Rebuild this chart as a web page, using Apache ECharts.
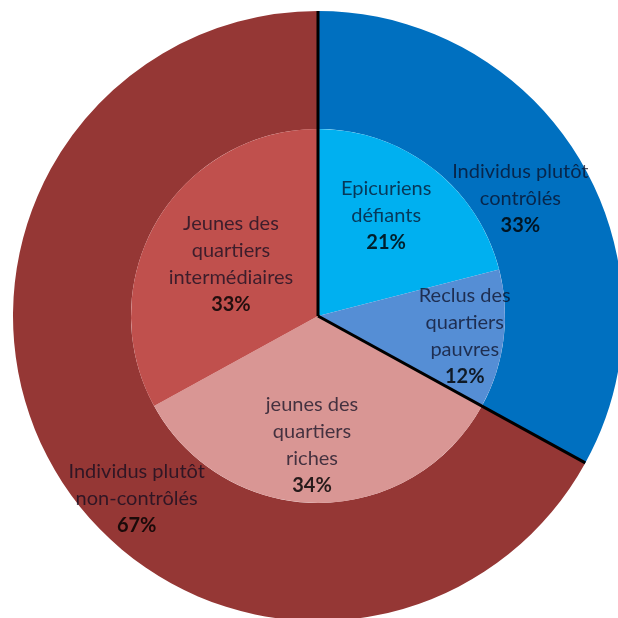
<!DOCTYPE html>
<html>
<head>
<meta charset="utf-8">
<script src="https://cdn.jsdelivr.net/npm/echarts@6/dist/echarts.min.js"></script>
<style>
html, body { margin: 0; padding: 0; background: #fff; }
#chart { width: 618px; height: 618px; }
</style>
</head>
<body>
<div id="chart"></div>
<script>
// outer ring
var outerNames = ['Individus plutôt\ncontrôlés', 'Individus plutôt\nnon-contrôlés'];
var outerValues = [33, 67];
var outerColors = ['#0070C0', '#953735'];

// inner pie
var innerNames = ['Epicuriens\ndéfiants', 'Reclus des\nquartiers\npauvres', 'jeunes des\nquartiers\nriches', 'Jeunes des\nquartiers\nintermédiaires'];
var innerValues = [21, 12, 34, 33];
var innerColors = ['#00B0F0', '#558ED5', '#D99694', '#C0504D'];

var cx = 318, cy = 316, rIn = 187, rOut = 305;

var myChart = echarts.init(document.getElementById('chart'));

var labelStyle = {
    show: true,
    position: 'inside',
    formatter: function (p) {
        return '{n|' + p.name + '}\n{p|' + p.value + '%}';
    },
    rich: {
        n: { fontFamily: 'Lato', fontSize: 20, lineHeight: 27, color: 'rgba(10,10,30,0.72)', align: 'center' },
        p: { fontFamily: 'Lato', fontSize: 20, lineHeight: 27, fontWeight: 'bold', color: 'rgba(0,0,0,0.82)', align: 'center' }
    }
};

var outerOffsets = [[-12, 9], [33, 56]];
var innerOffsets = [[9, -24], [51, 8], [-6, 33], [-4, -3]];

// black separators on the "contrôlés" slice
var total = outerValues.reduce(function (a, b) { return a + b; }, 0);
var cuts = [0, outerValues[0] / total];
var lines = cuts.map(function (f) {
    var a = f * 2 * Math.PI;
    return {
        type: 'line',
        z: 100,
        shape: { x1: cx, y1: cy, x2: cx + Math.sin(a) * rOut, y2: cy - Math.cos(a) * rOut },
        style: { stroke: '#000', lineWidth: 3 }
    };
});

option = {
    backgroundColor: '#fff',
    animation: false,
    graphic: lines,
    series: [
        {
            type: 'pie',
            center: [cx, cy],
            radius: [rIn, rOut],
            startAngle: 90,
            clockwise: true,
            silent: true,
            labelLine: { show: false },
            label: labelStyle,
            data: outerValues.map(function (v, i) {
                return {
                    value: v, name: outerNames[i],
                    itemStyle: { color: outerColors[i] },
                    label: { offset: outerOffsets[i] }
                };
            })
        },
        {
            type: 'pie',
            center: [cx, cy],
            radius: [0, rIn],
            startAngle: 90,
            clockwise: true,
            silent: true,
            labelLine: { show: false },
            label: labelStyle,
            data: innerValues.map(function (v, i) {
                return {
                    value: v, name: innerNames[i],
                    itemStyle: { color: innerColors[i] },
                    label: { offset: innerOffsets[i] }
                };
            })
        }
    ]
};

myChart.setOption(option);
</script>
</body>
</html>
